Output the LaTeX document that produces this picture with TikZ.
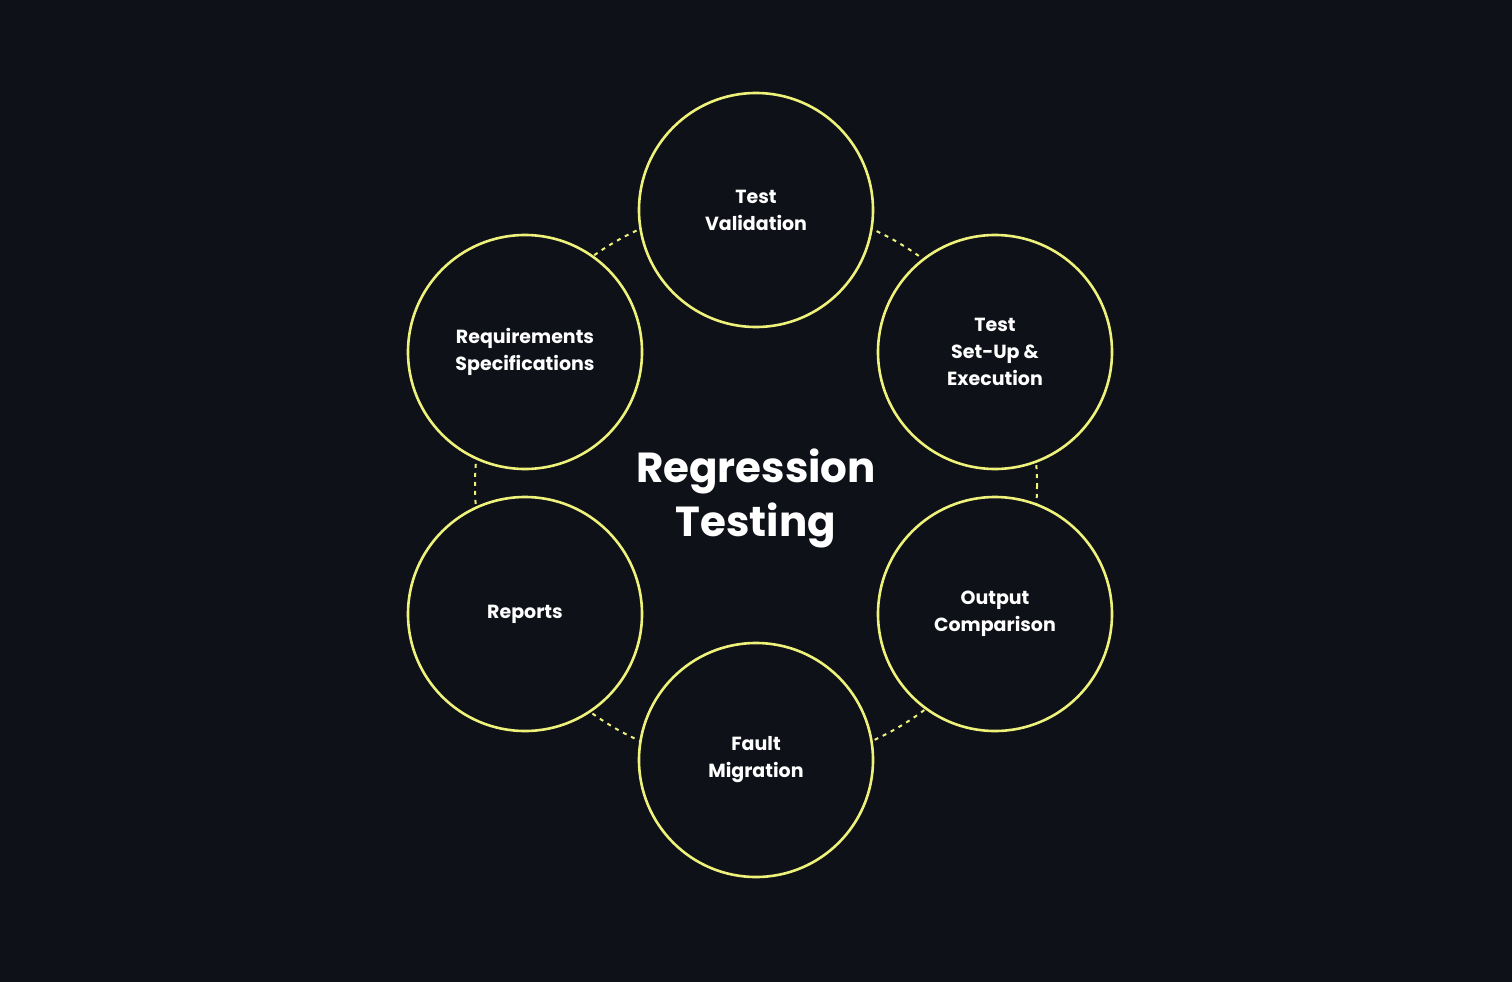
\documentclass[tikz,border=0pt]{standalone}
\usepackage{fontspec}
\setmainfont{Poppins}
\definecolor{bg}{HTML}{0E1118}
\definecolor{yel}{HTML}{EEF27A}
\begin{document}
\begin{tikzpicture}[x=1pt,y=-1pt,
  stage/.style={circle,draw=yel,line width=2.6pt,fill=bg,minimum size=234pt,inner sep=0pt,
    text=white,align=center,font=\fontsize{19}{27}\selectfont\bfseries},
  ring/.style={draw=yel,line width=2pt,dash pattern=on 4pt off 5pt}]
\fill[bg] (0,0) rectangle (1512,982);
\useasboundingbox (0,0) rectangle (1512,982);
\coordinate (c) at (756,485);
\draw[ring] (c) circle[radius=281];
\node[stage] (tv) at (756,210) {Test\\Validation};
\node[stage] (ts) at (995,352) {Test\\Set-Up \&\\Execution};
\node[stage] (oc) at (995,614) {Output\\Comparison};
\node[stage] (fm) at (756,760) {Fault\\Migration};
\node[stage] (rp) at (525,614) {Reports};
\node[stage] (rq) at (525,352) {Requirements\\Specifications};
\node[text=white,align=center,font=\fontsize{42}{54}\selectfont\bfseries] (t) at (756,498) {Regression\\Testing};
\end{tikzpicture}
\end{document}
